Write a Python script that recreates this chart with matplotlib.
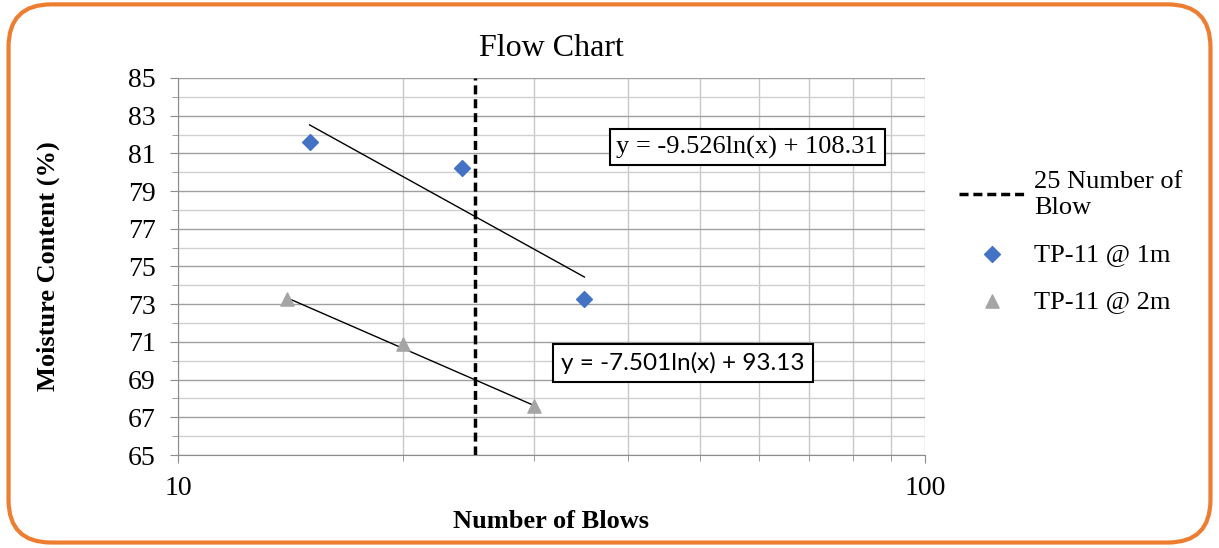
import matplotlib
matplotlib.use("Agg")
import matplotlib.pyplot as plt
from matplotlib.patches import FancyBboxPatch
from matplotlib.ticker import FixedLocator, NullFormatter, FixedFormatter
import numpy as np

# data
blows_1m = [15, 24, 35]
moisture_1m = [81.6, 80.2, 73.3]
blows_2m = [14, 20, 30]
moisture_2m = [73.3, 70.9, 67.6]
fit_1m = (-9.526, 108.31)
fit_2m = (-7.501, 93.13)
ref_blows = 25

plt.rcParams['font.family'] = ['Liberation Serif', 'DejaVu Serif']

fig = plt.figure(figsize=(12.19, 5.48), dpi=100)
border = FancyBboxPatch((0.007, 0.01), 0.986, 0.982, boxstyle="round,pad=0,rounding_size=0.035",
                        transform=fig.transFigure, facecolor='none', edgecolor='#ED7D31',
                        linewidth=3, mutation_aspect=1219 / 548, zorder=-1)
fig.patches.append(border)

ax = fig.add_axes([0.146, 0.1697, 0.6128, 0.688])
ax.set_xscale('log')
ax.set_xlim(10, 100)
ax.set_ylim(65, 85)

# gridlines
ax.xaxis.set_major_locator(FixedLocator([10, 100]))
ax.xaxis.set_major_formatter(FixedFormatter(['10', '100']))
ax.xaxis.set_minor_locator(FixedLocator(list(range(20, 100, 10))))
ax.xaxis.set_minor_formatter(NullFormatter())
ax.yaxis.set_major_locator(FixedLocator(list(range(65, 86, 2))))
ax.yaxis.set_minor_locator(FixedLocator(list(range(66, 85, 2))))
ax.grid(True, which='major', axis='y', color='#A0A0A0', linewidth=1.0)
ax.grid(True, which='minor', axis='y', color='#D0D0D0', linewidth=1.0)
ax.grid(True, which='both', axis='x', color='#C8C8C8', linewidth=1.0)
ax.set_axisbelow(True)
for s in ['top', 'right']:
    ax.spines[s].set_visible(False)
for s in ['left', 'bottom']:
    ax.spines[s].set_color('#8C8C8C')
ax.tick_params(which='major', length=6, color='#8C8C8C', labelsize=20, direction='out')
ax.tick_params(which='minor', length=4, color='#8C8C8C', direction='out')
ax.tick_params(axis='x', which='major', pad=9)
ax.tick_params(axis='y', which='major', pad=10)

# reference line at 25 blows
ax.axvline(ref_blows, color='black', linestyle=(0, (2.6, 1.4)), linewidth=2.5,
           label='25 Number of\nBlow', zorder=3)

ax.scatter(blows_1m, moisture_1m, marker='D', s=65, color='#4472C4', label='TP-11 @ 1m', zorder=4)
ax.scatter(blows_2m, moisture_2m, marker='^', s=90, color='#A5A5A5', label='TP-11 @ 2m', zorder=4)

# logarithmic trendlines
x1 = np.linspace(min(blows_1m), max(blows_1m), 50)
ax.plot(x1, fit_1m[0] * np.log(x1) + fit_1m[1], color='black', linewidth=1.0, zorder=3)
x2 = np.linspace(min(blows_2m), max(blows_2m), 50)
ax.plot(x2, fit_2m[0] * np.log(x2) + fit_2m[1], color='black', linewidth=1.0, zorder=3)

ax.text(0.762, 0.817, 'y = -9.526ln(x) + 108.31', transform=ax.transAxes, ha='center', va='center',
        fontsize=19, bbox=dict(facecolor='white', edgecolor='black', linewidth=1.5, pad=5), zorder=5)
ax.text(0.676, 0.244, 'y = -7.501ln(x) + 93.13', transform=ax.transAxes, ha='center', va='center',
        fontsize=17.5, family=['Lato', 'DejaVu Sans'],
        bbox=dict(facecolor='white', edgecolor='black', linewidth=1.5, pad=6), zorder=5)

ax.set_title('Flow Chart', fontsize=23, pad=16)
ax.set_xlabel('Number of Blows', fontsize=19, fontweight='bold')
ax.set_ylabel('Moisture Content (%)', fontsize=19, fontweight='bold')
ax.xaxis.set_label_coords(0.5, -0.145)
ax.yaxis.set_label_coords(-0.158, 0.5)

ax.legend(loc='upper left', bbox_to_anchor=(1.031, 0.78), frameon=False, fontsize=19,
          handlelength=2.5, handletextpad=0.35, labelspacing=0.9, borderaxespad=0)

fig.savefig('out.png', dpi=100)
